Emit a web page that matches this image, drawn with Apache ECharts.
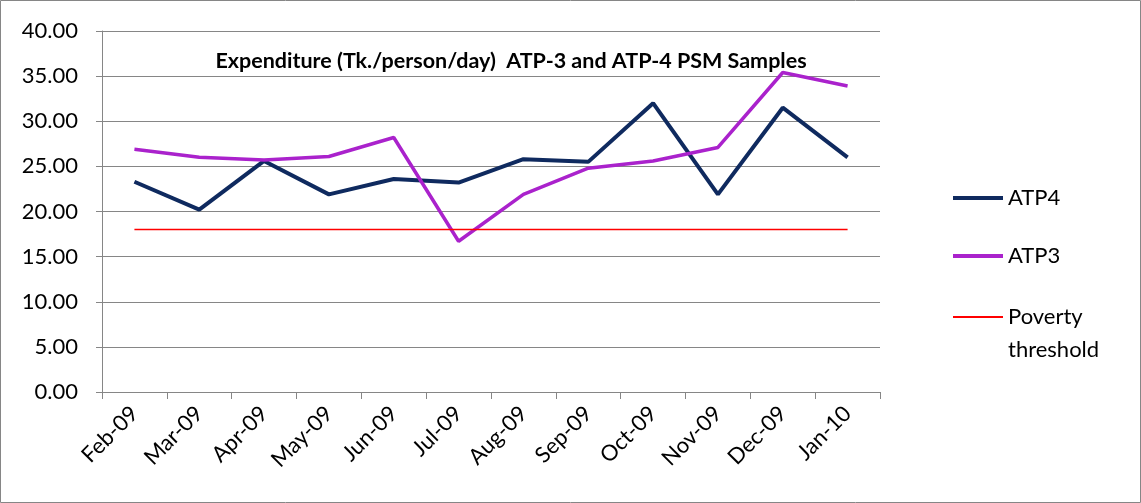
<!DOCTYPE html>
<html>
<head>
<meta charset="utf-8">
<script src="https://cdn.jsdelivr.net/npm/echarts@6/dist/echarts.min.js"></script>
<style>
html,body{margin:0;padding:0;background:#fff;}
#main{width:1141px;height:503px;}
</style>
</head>
<body>
<div id="main"></div>
<script>
var months=["Feb-09","Mar-09","Apr-09","May-09","Jun-09","Jul-09","Aug-09","Sep-09","Oct-09","Nov-09","Dec-09","Jan-10"];
var atp4=[23.3,20.2,25.6,21.9,23.6,23.2,25.8,25.5,32.0,21.9,31.5,26.0];
var atp3=[26.9,26.0,25.7,26.1,28.2,16.7,21.9,24.8,25.6,27.1,35.4,33.9];
var poverty=[18,18,18,18,18,18,18,18,18,18,18,18];

var myChart=echarts.init(document.getElementById('main'));
var font="Lato, 'Open Sans', sans-serif";
var option={
	animation:false,
	backgroundColor:'#fff',
	title:{
		text:'Expenditure (Tk./person/day)  ATP-3 and ATP-4 PSM Samples',
		left:506,
		top:45,
		textAlign:'center',
		textStyle:{fontFamily:font,fontSize:21.5,fontWeight:'bold',color:'#000'}
	},
	legend:[{
		orient:'vertical',
		left:948,
		top:180,
		itemGap:32,
		itemWidth:50,
		itemHeight:4,
		icon:'rect',
		textStyle:{fontFamily:font,fontSize:22,color:'#000',lineHeight:26},
		data:['ATP4','ATP3']
	},{
		orient:'vertical',
		left:948,
		top:299,
		itemWidth:50,
		itemHeight:2,
		icon:'rect',
		textStyle:{fontFamily:font,fontSize:22,color:'#000',lineHeight:26},
		formatter:function(n){return 'Poverty';},
		data:['Poverty threshold']
	}],
	grid:{left:102,right:261,top:31,bottom:111},
	xAxis:[{
		type:'category',
		boundaryGap:true,
		data:months,
		axisLine:{lineStyle:{color:'#868686',width:1}},
		axisTick:{show:true,inside:false,length:7,lineStyle:{color:'#868686'}},
		axisLabel:{rotate:45,fontFamily:font,fontSize:22,color:'#000',margin:18}
	}],
	yAxis:[{
		type:'value',
		min:0,max:40,interval:5,
		axisLine:{show:true,lineStyle:{color:'#868686'}},
		axisTick:{show:true,length:6,lineStyle:{color:'#868686'}},
		axisLabel:{fontFamily:font,fontSize:22,color:'#000',margin:24,formatter:function(v){return v.toFixed(2);}},
		splitLine:{lineStyle:{color:'#868686',width:1}}
	}],
	series:[
		{name:'ATP4',type:'line',data:atp4,symbol:'none',color:'#0f2a5f',lineStyle:{width:4,color:'#0f2a5f'}},
		{name:'ATP3',type:'line',data:atp3,symbol:'none',color:'#aa22cc',lineStyle:{width:3.5,color:'#aa22cc'}},
		{name:'Poverty threshold',type:'line',data:poverty,symbol:'none',color:'#ff0000',lineStyle:{width:1.5,color:'#ff0000'}}
	],
	graphic:[{
		type:'rect',
		shape:{x:0.5,y:0.5,width:1140,height:502},
		style:{fill:null,stroke:'#868686',lineWidth:1},
		silent:true
	},{
		type:'text',
		left:1008,
		top:339,
		style:{text:'threshold',font:"22px "+font,fill:'#000'},
		silent:true
	}]
};
myChart.setOption(option);
</script>
</body>
</html>
